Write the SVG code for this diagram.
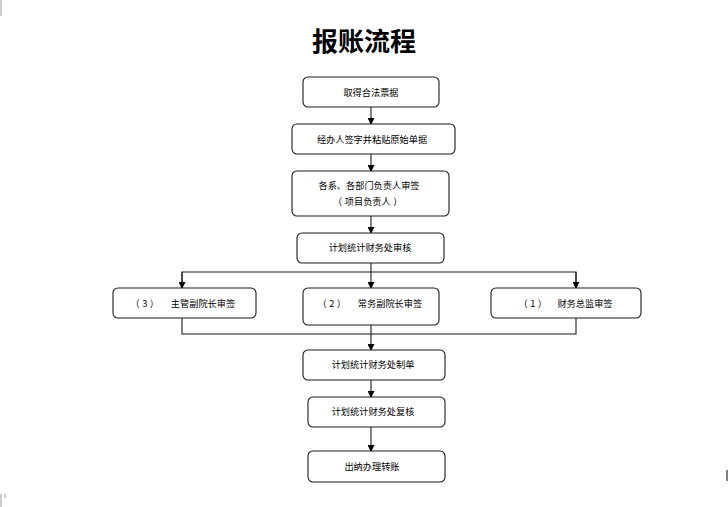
<svg xmlns="http://www.w3.org/2000/svg" width="728" height="507" viewBox="0 0 728 507">
<style>
.box{fill:#fff;stroke:#1a1a1a;stroke-width:1.1}
.t{font-family:"Noto Sans CJK SC","Liberation Sans",sans-serif;font-size:9.2px;fill:#000;text-anchor:middle}
.p{letter-spacing:2.5px}
.ttl{font-family:"Noto Sans CJK SC","Liberation Sans",sans-serif;font-size:26px;font-weight:bold;fill:#000;text-anchor:middle}
.c{fill:none;stroke:#1a1a1a;stroke-width:1.1}
</style>
<defs>
<marker id="ah" markerWidth="7" markerHeight="7" refX="6" refY="3.5" orient="auto" markerUnits="userSpaceOnUse">
<path d="M0,0 L7,3.5 L0,7 Z" fill="#000"/>
</marker>
</defs>
<rect width="728" height="507" fill="#fff"/>
<g id="marks" stroke="#999" stroke-width="1">
<line x1="1" y1="0" x2="1" y2="16"/>
<line x1="1" y1="494" x2="1" y2="507"/>
<line x1="5" y1="494" x2="5" y2="498"/>
<line x1="727" y1="470" x2="727" y2="481" stroke="#000"/>
</g>
<text class="ttl" x="364" y="51">报账流程</text>

<g id="connectors">
<line class="c" x1="371" y1="107" x2="371" y2="124" marker-end="url(#ah)"/>
<line class="c" x1="371" y1="154" x2="371" y2="171" marker-end="url(#ah)"/>
<line class="c" x1="371" y1="216" x2="371" y2="233" marker-end="url(#ah)"/>
<line class="c" x1="371" y1="263" x2="371" y2="288" marker-end="url(#ah)"/>
<polyline class="c" points="182,288 182,272 576,272 576,288"/>
<line class="c" x1="182" y1="272" x2="182" y2="288" marker-end="url(#ah)"/>
<line class="c" x1="576" y1="272" x2="576" y2="288" marker-end="url(#ah)"/>
<polyline class="c" points="182,318 182,334 576,334 576,318"/>
<line class="c" x1="371" y1="325" x2="371" y2="350" marker-end="url(#ah)"/>
<line class="c" x1="371" y1="380" x2="371" y2="397" marker-end="url(#ah)"/>
<line class="c" x1="371" y1="427" x2="371" y2="451" marker-end="url(#ah)"/>
</g>

<g id="n1"><rect class="box" x="303" y="77" width="136" height="30" rx="5"/><text class="t" x="371" y="96">取得合法票据</text></g>
<g id="n2"><rect class="box" x="292" y="124" width="163" height="30" rx="5"/><text class="t" x="372" y="143">经办人签字并粘贴原始单据</text></g>
<g id="n3"><rect class="box" x="292" y="171" width="157" height="45" rx="5"/><text class="t" x="369" y="189">各系、各部门负责人审签</text><text class="t" x="369" y="205"><tspan class="p">（</tspan>项目负责人<tspan class="p" dx="2.5">）</tspan></text></g>
<g id="n4"><rect class="box" x="297" y="233" width="147" height="30" rx="5"/><text class="t" x="370" y="251">计划统计财务处审核</text></g>
<g id="n5"><rect class="box" x="113" y="288" width="143" height="30" rx="5"/><text class="t p" x="146" y="307">（3）</text><text class="t" x="203" y="307">主管副院长审签</text></g>
<g id="n6"><rect class="box" x="303" y="288" width="136" height="37" rx="5"/><text class="t p" x="333" y="307">（2）</text><text class="t" x="390" y="307">常务副院长审签</text></g>
<g id="n7"><rect class="box" x="491" y="288" width="150" height="30" rx="5"/><text class="t p" x="534" y="307">（1）</text><text class="t" x="585" y="307">财务总监审签</text></g>
<g id="n8"><rect class="box" x="303" y="350" width="142" height="30" rx="5"/><text class="t" x="373" y="368">计划统计财务处制单</text></g>
<g id="n9"><rect class="box" x="308" y="397" width="137" height="30" rx="5"/><text class="t" x="373" y="415">计划统计财务处复核</text></g>
<g id="n10"><rect class="box" x="308" y="451" width="137" height="31" rx="5"/><text class="t" x="372" y="470">出纳办理转账</text></g>
</svg>
